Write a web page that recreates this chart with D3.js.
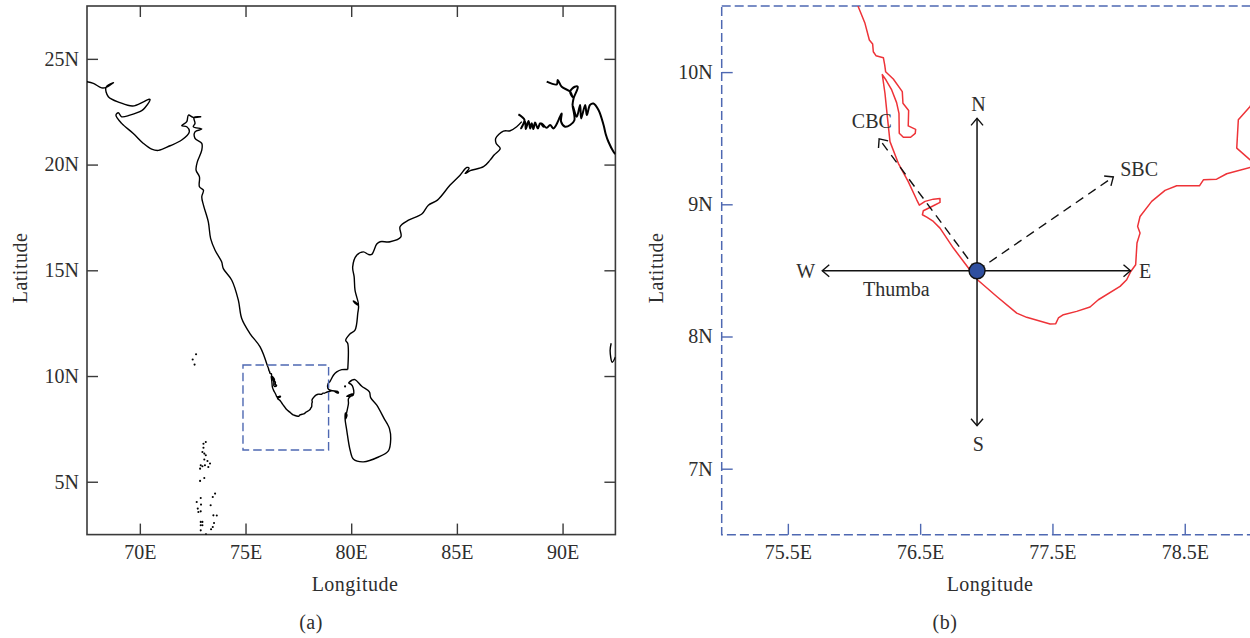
<!DOCTYPE html>
<html>
<head>
<meta charset="utf-8">
<script src="https://cdn.jsdelivr.net/npm/d3@7"></script>
<style>
html,body{margin:0;padding:0;background:#fff;overflow:hidden}
text{font-family:"Liberation Serif",serif;fill:#2e2e2e;font-size:20px}
</style>
</head>
<body>
<script>
// Coastlines, as [longitude, latitude]
const westCoast = [[67.49,23.92],[67.80,23.84],[68.19,23.63],[68.40,23.65],[68.75,23.87],[68.40,23.65],[68.51,23.21],[69.06,22.93],[69.66,22.77],[70.17,22.97],[70.40,23.08],[70.48,23.08],[70.25,22.70],[70.09,22.55],[69.53,22.34],[69.14,22.26],[68.98,22.45],[68.87,22.34],[69.14,21.95],[69.69,21.47],[70.17,21.00],[70.56,20.73],[70.88,20.67],[71.43,20.89],[71.98,21.16],[72.34,21.55],[72.22,21.79],[71.98,21.84],[72.22,22.03],[72.30,22.34],[72.53,22.23],[72.88,22.26],[72.56,22.23],[72.61,21.95],[72.53,21.79],[72.93,21.68],[72.61,21.55],[72.61,21.24],[72.93,21.0],[72.93,20.68],[72.72,20.13],[72.66,19.74],[72.82,19.42],[72.82,18.95],[73.01,18.79],[72.93,18.48],[73.01,18.08],[73.24,17.29],[73.35,16.50],[73.56,15.95],[73.87,15.40],[73.95,15.08],[74.35,14.53],[74.66,13.59],[74.82,12.72],[75.21,12.01],[75.69,11.38],[76.03,10.50]];
const southCoast = [[76.03,10.50],[76.083,10.369],[76.116,10.243],[76.141,10.212],[76.146,10.154],[76.166,10.124],[76.222,10.109],[76.232,10.054],[76.239,10.003],[76.297,9.948],[76.365,9.852],[76.370,9.764],[76.413,9.709],[76.410,9.593],[76.466,9.567],[76.463,9.537],[76.428,9.507],[76.373,9.507],[76.342,9.537],[76.340,9.688],[76.322,9.769],[76.285,9.865],[76.242,9.940],[76.214,9.981],[76.234,9.840],[76.252,9.663],[76.272,9.474],[76.335,9.310],[76.410,9.172],[76.474,9.034],[76.494,8.994],[76.537,9.022],[76.600,9.039],[76.650,9.044],[76.650,9.014],[76.600,8.989],[76.524,8.951],[76.517,8.921],[76.550,8.903],[76.600,8.870],[76.650,8.820],[76.751,8.669],[76.865,8.518],[76.933,8.429],[77.079,8.303],[77.230,8.177],[77.305,8.145],[77.482,8.094],[77.525,8.097],[77.545,8.140],[77.583,8.165],[77.683,8.190],[77.784,8.223],[77.847,8.278],[78.011,8.379],[78.061,8.429],[78.092,8.492],[78.129,8.543],[78.139,8.707],[78.162,8.782],[78.144,8.833],[78.162,8.908],[78.250,9.022],[78.351,9.105],[78.439,9.140],[78.611,9.140],[78.641,9.185],[78.741,9.190],[78.817,9.231],[78.994,9.279],[79.08,9.30],[79.39,9.24],[79.39,9.19],[79.2,9.27],[79.05,9.32],[78.994,9.336],[78.893,9.425],[78.905,9.639],[78.994,9.74],[79.158,10.037],[79.316,10.195],[79.553,10.30],[79.837,10.305]];
const eastCoast = [[79.837,10.305],[79.837,11.535],[79.74,11.69],[79.95,12.0],[80.18,12.17],[80.31,12.955],[80.34,13.35],[80.23,13.47],[80.10,13.55],[80.18,13.44],[80.34,13.35],[80.18,14.06],[80.14,14.69],[80.07,15.16],[80.26,15.71],[80.58,15.87],[80.81,15.75],[80.97,15.75],[81.21,16.24],[81.37,16.35],[81.84,16.35],[82.35,16.58],[82.31,17.06],[82.71,17.37],[83.34,17.66],[83.65,18.08],[84.08,18.32],[84.68,19.03],[85.15,19.50],[85.47,19.86],[85.58,19.82],[85.39,19.58],[85.63,19.71],[86.26,19.90],[86.57,20.21],[86.76,20.45],[87.05,20.76],[86.86,21.00],[86.84,21.24],[87.20,21.58],[87.52,21.60],[87.83,21.79],[88.07,22.03]];
const deltaCoast = [[87.91,22.37],[88.07,22.26],[88.20,22.11],[88.04,21.71],[88.23,22.03],[88.26,21.68],[88.39,22.06],[88.47,21.71],[88.54,21.95],[88.62,21.68],[88.70,21.99],[88.83,21.71],[88.94,21.95],[89.10,21.79],[89.02,21.95],[89.25,21.74],[89.41,21.87],[89.57,21.71],[89.68,21.84],[89.88,22.26],[89.96,22.42],[89.93,22.03],[90.12,21.79],[90.36,21.87],[90.56,22.10],[90.47,22.82],[90.67,22.26],[90.83,22.82],[90.88,22.18],[91.07,22.82],[91.15,22.34],[91.30,22.82],[91.46,22.89],[91.70,22.58],[91.94,21.87],[92.04,21.45],[92.17,21.08],[92.41,20.61],[92.5,20.5]];
const gangesRiver = [[90.47,22.82],[90.52,23.13],[90.72,23.68],[90.58,23.68],[90.36,23.45],[90.47,23.2],[90.36,23.45],[89.96,23.68],[89.77,24.0],[89.73,23.79],[89.25,23.92]];
const sriLanka = [[79.87,9.67],[80.03,9.80],[80.18,9.83],[80.50,9.52],[80.86,9.25],[80.92,8.98],[81.21,8.62],[81.60,7.91],[81.70,7.75],[81.81,7.51],[81.87,7.04],[81.76,6.46],[81.29,6.17],[80.58,5.94],[80.11,6.06],[79.95,6.49],[79.79,7.43],[79.71,7.99],[79.73,8.25],[79.80,8.15],[79.72,7.95],[79.87,8.70],[79.87,8.93],[80.10,9.17],[79.79,9.04],[80.10,9.10],[80.05,9.55],[79.87,9.67]];
const andamanIslands = [[92.3,11.55],[92.25,11.2],[92.35,10.65],[92.5,10.9]];
const islandDots = [[72.66,11.03],[72.50,10.78],[72.59,10.54],[73.12,6.88],[73.01,6.80],[73.01,6.61],[72.96,6.41],[73.05,6.33],[73.12,6.25],[73.05,6.05],[73.20,5.98],[72.88,5.78],[72.96,5.73],[73.32,5.86],[73.08,5.78],[72.85,5.62],[73.24,5.70],[73.05,5.18],[72.85,5.04],[72.88,4.23],[72.69,4.04],[72.895,3.92],[73.56,4.44],[73.45,4.28],[73.35,3.89],[72.74,3.73],[72.77,3.57],[72.88,3.60],[73.48,3.41],[73.64,3.40],[72.88,3.10],[72.96,3.10],[72.88,2.94],[72.96,2.94],[72.88,2.70],[73.51,3.05],[73.45,2.86],[73.37,2.75],[73.13,2.52],[79.71,9.51]];

// Axis ticks and labels
const lonTicksA = [70,75,80,85,90];
const latTicksA = [5,10,15,20,25];
const lonTicksB = [75.5,76.5,77.5,78.5];
const latTicksB = [7,8,9,10];
const lonDomainA = [67.5,92.5], latDomainA = [2.5,27.5];
const lonDomainB = [75,79], latDomainB = [6.5,10.5];
const insetLon = [74.88,78.93], insetLat = [6.5,10.52];
const xLabel = "Longitude", yLabel = "Latitude";

// Thumba and the direction arrows
const thumba = [76.93,8.497];
const solidArrows = [{name:"N",to:[76.93,9.65]},{name:"S",to:[76.93,7.325]},{name:"W",to:[75.76,8.497]},{name:"E",to:[78.09,8.497]}];
const dashedArrows = [{name:"CBC",to:[76.19,9.495]},{name:"SBC",to:[77.96,9.207]}];
const arrowLabels = [{t:"N",at:[76.94,9.74],a:"middle"},{t:"S",at:[76.94,7.165],a:"middle"},{t:"W",at:[75.635,8.48],a:"middle"},{t:"E",at:[78.2,8.48],a:"middle"},{t:"CBC",at:[76.135,9.61],a:"middle"},{t:"SBC",at:[78.155,9.25],a:"middle"},{t:"Thumba",at:[76.32,8.34],a:"middle"}];

const BLUE = "#4e68b2", RED = "#ee3338", DARK = "#3a3a3a";
const W = 1250, H = 638;
const svg = d3.select("body").append("svg").attr("width",W).attr("height",H).style("display","block");

const defs = svg.append("defs");
defs.append("marker").attr("id","arrow").attr("markerUnits","userSpaceOnUse")
  .attr("viewBox","-10 -8 12 16").attr("markerWidth",12).attr("markerHeight",16).attr("refX",0).attr("refY",0).attr("orient","auto")
  .append("path").attr("d",d3.line()([[-7,-6],[0,0],[-7,6]])).attr("fill","none").attr("stroke","#111").attr("stroke-width",1.4);

function panel(id,box,lonD,latD,lonT,latT,color,fmtLon,padY){
  const x = d3.scaleLinear().domain(lonD).range([box.l,box.r]);
  const y = d3.scaleLinear().domain(latD).range([box.b,box.t]);
  defs.append("clipPath").attr("id",id).append("rect").attr("x",box.l).attr("y",box.t).attr("width",box.r-box.l).attr("height",box.b-box.t);
  const g = svg.append("g");
  const style = s => { s.select(".domain").remove(); s.selectAll("line").attr("stroke",color).attr("stroke-width",1.4); };
  g.append("g").attr("transform",`translate(0,${box.b})`).call(d3.axisBottom(x).tickValues(lonT).tickSizeInner(-11).tickSizeOuter(0).tickPadding(10).tickFormat(fmtLon)).call(style);
  g.append("g").attr("transform",`translate(${box.l},0)`).call(d3.axisLeft(y).tickValues(latT).tickSizeInner(-11).tickSizeOuter(0).tickPadding(padY).tickFormat(d=>d+"N")).call(style);
  g.selectAll(".tick text").attr("fill","#2e2e2e").style("font-size","20px").style("font-family",'"Liberation Serif",serif');
  return {x,y,g,box};
}
const frame = (p,color,dash) => p.g.append("rect").attr("x",p.box.l).attr("y",p.box.t).attr("width",p.box.r-p.box.l).attr("height",p.box.b-p.box.t)
  .attr("fill","none").attr("stroke",color).attr("stroke-width",dash?1.5:1.6).attr("stroke-dasharray",dash||null);

// Panel (a)
const A = panel("clipA",{l:87,r:615.4,t:6,b:534.6},lonDomainA,latDomainA,lonTicksA,latTicksA,DARK,d=>d+"E",8);
// ticks on the top and right of panel (a)
A.g.append("g").attr("transform",`translate(0,${A.box.t})`).call(d3.axisTop(A.x).tickValues(lonTicksA).tickSizeInner(-11).tickSizeOuter(0).tickFormat(""))
  .call(s=>{s.select(".domain").remove();s.selectAll("line").attr("stroke",DARK).attr("stroke-width",1.4);});
A.g.append("g").attr("transform",`translate(${A.box.r},0)`).call(d3.axisRight(A.y).tickValues(latTicksA).tickSizeInner(-11).tickSizeOuter(0).tickFormat(""))
  .call(s=>{s.select(".domain").remove();s.selectAll("line").attr("stroke",DARK).attr("stroke-width",1.4);});
const lineA = d3.line().x(d=>A.x(d[0])).y(d=>A.y(d[1])).curve(d3.curveCatmullRom.alpha(0.5));
const coastA = svg.append("g").attr("clip-path","url(#clipA)");
coastA.selectAll("path.c").data([westCoast,southCoast,eastCoast,sriLanka,andamanIslands]).join("path").attr("class","c").attr("d",lineA).attr("fill","none").attr("stroke","#000").attr("stroke-width",1.4).attr("stroke-linejoin","round");
coastA.selectAll("path.t").data([deltaCoast,gangesRiver]).join("path").attr("class","t").attr("d",lineA).attr("fill","none").attr("stroke","#000").attr("stroke-width",2).attr("stroke-linejoin","round");
coastA.selectAll("circle").data(islandDots).join("circle").attr("cx",d=>A.x(d[0])).attr("cy",d=>A.y(d[1])).attr("r",1.05).attr("fill","#000");
frame(A,DARK,null);
svg.append("rect").attr("x",A.x(insetLon[0])).attr("y",A.y(insetLat[1]))
  .attr("width",A.x(insetLon[1])-A.x(insetLon[0])).attr("height",A.y(insetLat[0])-A.y(insetLat[1]))
  .attr("fill","none").attr("stroke",BLUE).attr("stroke-width",1.4).attr("stroke-dasharray","8.5 4");

// Panel (b)
const B = panel("clipB",{l:721.7,r:1250.9,t:6,b:534.8},lonDomainB,latDomainB,lonTicksB,latTicksB,BLUE,d=>d+"E",9);
const lineB = d3.line().x(d=>B.x(d[0])).y(d=>B.y(d[1]));
svg.append("g").attr("clip-path","url(#clipB)").selectAll("path").data([southCoast]).join("path")
  .attr("d",lineB).attr("fill","none").attr("stroke",RED).attr("stroke-width",1.5).attr("stroke-linejoin","round");
frame(B,BLUE,"9 4");

const arrows = svg.append("g");
arrows.selectAll("line.s").data(solidArrows).join("line").attr("class","s")
  .attr("x1",B.x(thumba[0])).attr("y1",B.y(thumba[1])).attr("x2",d=>B.x(d.to[0])).attr("y2",d=>B.y(d.to[1]))
  .attr("stroke","#111").attr("stroke-width",1.5).attr("marker-end","url(#arrow)");
arrows.selectAll("line.d").data(dashedArrows).join("line").attr("class","d")
  .attr("x1",B.x(thumba[0])).attr("y1",B.y(thumba[1])).attr("x2",d=>B.x(d.to[0])).attr("y2",d=>B.y(d.to[1]))
  .attr("stroke","#111").attr("stroke-width",1.4).attr("stroke-dasharray","9 6").attr("marker-end","url(#arrow)");
arrows.append("circle").attr("cx",B.x(thumba[0])).attr("cy",B.y(thumba[1])).attr("r",8).attr("fill","#2f4f9f").attr("stroke","#111").attr("stroke-width",1.4);
arrows.selectAll("text").data(arrowLabels).join("text").attr("x",d=>B.x(d.at[0])).attr("y",d=>B.y(d.at[1])).attr("text-anchor",d=>d.a).attr("dominant-baseline","middle").text(d=>d.t);

// Axis titles and panel letters
const title = (t,x,y,rot) => svg.append("text").attr("transform",`translate(${x},${y})`+(rot?" rotate(-90)":"")).attr("text-anchor","middle").style("letter-spacing","0.5px").text(t);
title(xLabel,355,591); title(xLabel,990,591);
title(yLabel,26.5,268,true); title(yLabel,662.5,268,true);
title("(a)",311,629); title("(b)",945,629);
</script>
</body>
</html>
